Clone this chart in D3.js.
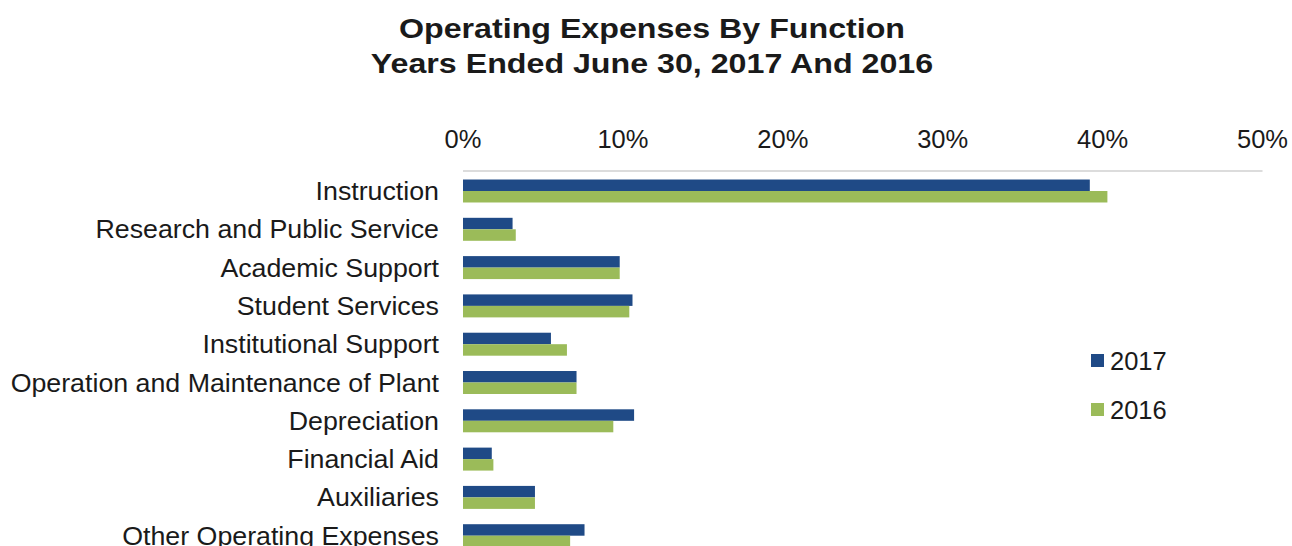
<!DOCTYPE html>
<html>
<head>
<script src="https://cdn.jsdelivr.net/npm/d3@7"></script>
<style>
  body { margin: 0; background: #fff; }
  text { font-family: "Liberation Sans", Arial, sans-serif; fill: #1a1a1a; }
</style>
</head>
<body>
<div id="chart"></div>
<script>
    // values, in percent
    const categories = ["Instruction", "Research and Public Service", "Academic Support",
        "Student Services", "Institutional Support", "Operation and Maintenance of Plant",
        "Depreciation", "Financial Aid", "Auxiliaries", "Other Operating Expenses"];
    const years = ["2017", "2016"];
    const values2017 = [39.2, 3.1, 9.8, 10.6, 5.5, 7.1, 10.7, 1.8, 4.5, 7.6];
    const values2016 = [40.3, 3.3, 9.8, 10.4, 6.5, 7.1, 9.4, 1.9, 4.5, 6.7];
    const xTicks = [0, 10, 20, 30, 40, 50];
    const titleLines = ["Operating Expenses By Function", "Years Ended June 30, 2017 And 2016"];
    const colors = ["#1f4a86", "#9bbb59"];

    var width = 1292, height = 546;

    var svg = d3.select("#chart").append("svg")
        .attr("width", width)
        .attr("height", height);

    var x = d3.scaleLinear().domain([0, 50]).range([463, 1262.5]);

    var y = d3.scaleBand()
        .domain(categories)
        .range([171.85, 554.85])
        .paddingInner(0.4)
        .paddingOuter(0.2);

    var y1 = d3.scaleBand().domain(years).range([0, y.bandwidth()]);

    // title (the source text is a bit wider than Liberation Sans)
    svg.selectAll(".title")
        .data(titleLines)
        .enter().append("text")
        .attr("transform", (d, i) => "translate(652," + (37.5 + i * 35.5) + ") scale(1.15,1)")
        .attr("text-anchor", "middle")
        .style("font-weight", "bold")
        .style("font-size", "28px")
        .text(d => d);

    // top axis
    svg.append("line")
        .attr("x1", x(0)).attr("x2", x(50))
        .attr("y1", 171).attr("y2", 171)
        .attr("stroke", "#d0d0d0")
        .attr("stroke-width", 1.5);

    svg.selectAll(".tick")
        .data(xTicks)
        .enter().append("text")
        .attr("x", d => x(d))
        .attr("y", 148)
        .attr("text-anchor", "middle")
        .style("font-size", "25.5px")
        .text(d => d + "%");

    // category labels
    svg.selectAll(".cat")
        .data(categories)
        .enter().append("text")
        .attr("transform", d => "translate(439," + (y(d) + y.bandwidth() / 2 + 9) + ") scale(1.05,1)")
        .attr("text-anchor", "end")
        .style("font-size", "25.5px")
        .text(d => d);

    // bars
    var rows = categories.map((c, i) => ({cat: c, vals: [values2017[i], values2016[i]]}));

    var groups = svg.selectAll(".row")
        .data(rows)
        .enter().append("g")
        .attr("transform", d => "translate(0," + y(d.cat) + ")");

    groups.selectAll("rect")
        .data(d => d.vals.map((v, j) => ({year: years[j], v: v, j: j})))
        .enter().append("rect")
        .attr("x", x(0))
        .attr("y", d => y1(d.year))
        .attr("width", d => x(d.v) - x(0))
        .attr("height", y1.bandwidth())
        .attr("fill", d => colors[d.j]);

    // legend
    var legend = svg.selectAll(".legend")
        .data(years)
        .enter().append("g")
        .attr("transform", (d, i) => "translate(1091," + (354 + i * 49) + ")");

    legend.append("rect")
        .attr("width", 13).attr("height", 13)
        .attr("fill", (d, i) => colors[i]);

    legend.append("text")
        .attr("x", 19)
        .attr("y", 15.5)
        .style("font-size", "25.5px")
        .text(d => d);
</script>
</body>
</html>
